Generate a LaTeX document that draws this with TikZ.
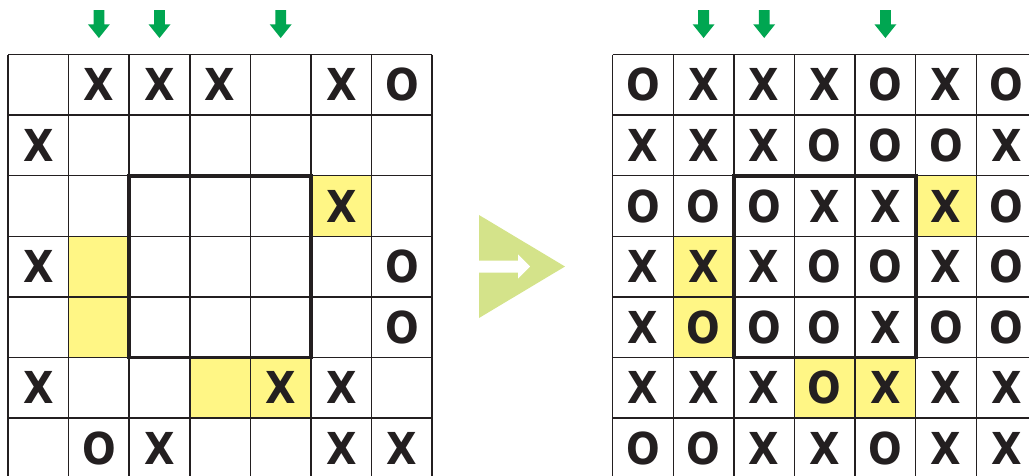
\documentclass[tikz,border=0pt]{standalone}
\usepackage{fontspec}
\newfontfamily\cellfont[UprightFont={* Bold},FakeStretch=0.9]{DejaVu Sans}
\definecolor{gridink}{HTML}{231F20}
\definecolor{hilite}{HTML}{FFF685}
\definecolor{pointgreen}{HTML}{00A651}
\definecolor{stepgreen}{HTML}{D4E38A}
\def\cs{60.6}

\begin{document}
\begin{tikzpicture}[x=1pt, y=-1pt,
    sym/.style={font=\cellfont\fontsize{44}{44}\selectfont, text=gridink, inner sep=0pt},
    gridline/.style={draw=gridink, line width=1.5pt},
    region/.style={draw=gridink, line width=3.8pt},
    cellhl/.style={fill=hilite},
    marker/.style={fill=pointgreen},
    bigarrow/.style={fill=stepgreen}
  ]
    \clip (0,0) rectangle (1029,475);

    % both boards: highlights, lines, centre block, column markers
    \foreach \gx in {8,612.7} {
      \foreach \r/\c in {2/5,3/1,4/1,5/3,5/4}
        \fill[cellhl] ({\gx+\c*\cs},{54.5+\r*\cs}) rectangle +(\cs,\cs);
      \foreach \i in {0,...,7} {
        \draw[gridline] ({\gx+\i*\cs},54.5) -- +(0,7*\cs);
        \draw[gridline] (\gx,{54.5+\i*\cs}) -- +(7*\cs,0);
      }
      \draw[region] ({\gx+2*\cs},{54.5+2*\cs}) rectangle +(3*\cs,3*\cs);
      \foreach \c in {1,2,4}
        \fill[marker] ({\gx+(\c+0.5)*\cs},38) -- ++(-11,-13.7) -- ++(5.6,0) -- ++(0,-14.3)
          -- ++(10.8,0) -- ++(0,14.3) -- ++(5.6,0) -- cycle;
    }

    % puzzle
    \foreach \row [count=\r from 0] in {{-,X,X,X,-,X,O},{X,-,-,-,-,-,-},{-,-,-,-,-,X,-},
        {X,-,-,-,-,-,O},{-,-,-,-,-,-,O},{X,-,-,-,X,X,-},{-,O,X,-,-,X,X}} {
      \foreach \s [count=\c from 0] in \row {
        \if\s-\else
          \node[sym] (L-\r-\c) at ({8+(\c+0.5)*\cs},{54.5+(\r+0.5)*\cs}) {\s};
        \fi
      }
    }

    % solution
    \foreach \row [count=\r from 0] in {{O,X,X,X,O,X,O},{X,X,X,O,O,O,X},{O,O,O,X,X,X,O},
        {X,X,X,O,O,X,O},{X,O,O,O,X,O,O},{X,X,X,O,X,X,X},{O,O,X,X,O,X,X}} {
      \foreach \s [count=\c from 0] in \row {
        \node[sym] (R-\r-\c) at ({612.7+(\c+0.5)*\cs},{54.5+(\r+0.5)*\cs}) {\s};
      }
    }

    % big arrow
    \fill[bigarrow] (479,215) -- (565,266.5) -- (479,318) -- cycle;
    \fill[white] (479,260.5) -- (518,260.5) -- (518,254.3) -- (530,266.5) -- (518,278.7)
      -- (518,272.5) -- (479,272.5) -- cycle;
  \end{tikzpicture}
\end{document}
